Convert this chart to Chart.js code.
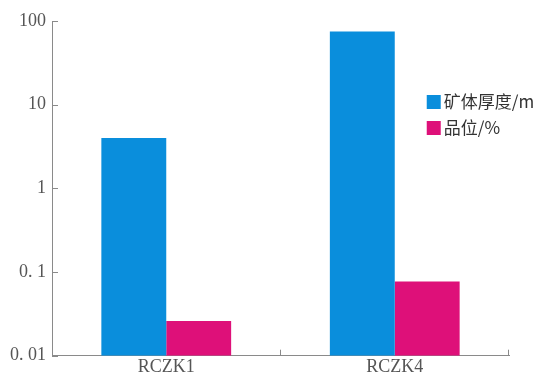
<!DOCTYPE html>
<html>
<head>
<meta charset="utf-8">
<script src="https://cdn.jsdelivr.net/npm/chart.js@4"></script>
<style>
  html, body { margin: 0; padding: 0; background: #fff; }
  #wrap { width: 542px; height: 379px; }
</style>
</head>
<body>
<div id="wrap"><canvas id="oreChart" width="542" height="379"></canvas></div>
<script>
const categories = ['RCZK1', 'RCZK4'];
const thickness = [4.0, 75];      // 矿体厚度/m
const grade = [0.026, 0.077];     // 品位/%
const tickValues = [0.01, 0.1, 1, 10, 100];
const tickLabels = ['0. 01', '0. 1', '1', '10', '100'];

const axisGrey = '#8a8a8a';
const textGrey = '#555';
const fontFam = '"Liberation Serif", "DejaVu Serif", serif';

// inward ticks + legend drawn over the plot
const extras = {
  id: 'extras',
  afterDraw(chart) {
    const c = chart.ctx, a = chart.chartArea;
    const y = chart.scales.y;
    c.save();
    c.strokeStyle = axisGrey;
    c.lineWidth = 1;
    c.beginPath();
    tickValues.forEach(v => {
      const py = Math.round(y.getPixelForValue(v)) + 0.5;
      c.moveTo(a.left, py); c.lineTo(a.left + 6, py);
    });
    const w = (a.right - a.left) / categories.length;
    for (let k = 1; k <= categories.length; k++) {
      const px = Math.round(a.left + k * w) - 0.5;
      c.moveTo(px, a.bottom); c.lineTo(px, a.bottom - 6);
    }
    c.stroke();

    // legend
    const lx = a.left + (a.right - a.left) * 0.82;
    let ly = a.top + 74;
    c.font = '17px "Noto Sans CJK SC", sans-serif';
    c.textBaseline = 'middle';
    chart.data.datasets.forEach(ds => {
      c.fillStyle = ds.backgroundColor;
      c.fillRect(lx, ly, 14, 14);
      c.fillStyle = '#333';
      c.fillText(ds.label, lx + 17, ly + 7);
      ly += 26;
    });
    c.restore();
  }
};

new Chart(document.getElementById('oreChart'), {
  type: 'bar',
  data: {
    labels: categories,
    datasets: [
      { label: '矿体厚度/m', data: thickness, backgroundColor: '#0a8edc' },
      { label: '品位/%', data: grade, backgroundColor: '#de1079' }
    ]
  },
  options: {
    responsive: false,
    animation: false,
    layout: { padding: { top: 21, right: 33, left: 4, bottom: 0 } },
    datasets: { bar: { categoryPercentage: 0.568, barPercentage: 1.0 } },
    plugins: { legend: { display: false }, tooltip: { enabled: false } },
    scales: {
      x: {
        grid: { display: false, drawTicks: false },
        border: { display: true, color: axisGrey, width: 1 },
        ticks: { color: textGrey, font: { family: fontFam, size: 18, lineHeight: 0.85 }, padding: 4 }
      },
      y: {
        type: 'logarithmic',
        min: 0.01,
        max: 100,
        grid: { display: false, drawTicks: false },
        border: { display: true, color: axisGrey, width: 1 },
        afterBuildTicks: s => { s.ticks = tickValues.map(v => ({ value: v })); },
        ticks: {
          color: textGrey,
          font: { family: fontFam, size: 18 },
          padding: 6,
          callback: (v) => tickLabels[tickValues.indexOf(v)] ?? ''
        }
      }
    }
  },
  plugins: [extras]
});
</script>
</body>
</html>
